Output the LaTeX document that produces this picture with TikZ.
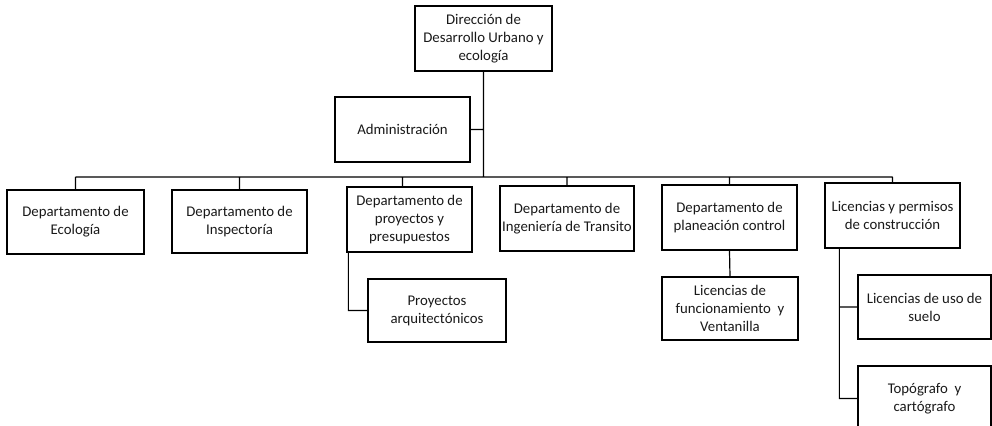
\documentclass[tikz,border=0pt]{standalone}
\usepackage{fontspec}
\setmainfont{Carlito}
\usetikzlibrary{positioning}
\tikzset{
  x=0.5pt, y=-0.5pt, % one unit is one pixel of the scan
  unidad/.style={draw, line width=0.65pt, align=center, inner sep=0pt,
    font=\fontsize{7.4}{9}\selectfont, text=black!90}, % every box of the chart
  linea/.style={line width=0.6pt}, % the connectors
}

\begin{document}
\begin{tikzpicture}
    \useasboundingbox (0,0) rectangle (992,426);

    % top of the chart
    \node[unidad, minimum width=68.5pt, minimum height=32.5pt] (dir) at (483.5,38.5)
      {Dirección de\\Desarrollo Urbano y\\ecología};
    \node[unidad, minimum width=67.5pt, minimum height=32.5pt] (adm) at (402.5,129.5)
      {Administración};
    \coordinate (bus) at (0,177);

    % departments
    \node[unidad, minimum width=68.5pt, minimum height=32pt] (eco) at (75.5,222)
      {Departamento de\\Ecología};
    \node[unidad, minimum width=67.5pt, minimum height=31.5pt] (insp) at (239.5,221.5)
      {Departamento de\\Inspectoría};
    \node[unidad, minimum width=62.5pt, minimum height=32.5pt] (proy) at (409.5,219.5)
      {Departamento de\\proyectos y\\presupuestos};
    \node[unidad, minimum width=67pt, minimum height=32.5pt] (ing) at (567,218.5)
      {Departamento de\\Ingeniería de Transito};
    \node[unidad, minimum width=67.5pt, minimum height=32.5pt] (plan) at (729.5,217.5)
      {Departamento de\\planeación control};
    \node[unidad, minimum width=67.5pt, minimum height=32.5pt] (lic) at (892.5,215.5)
      {Licencias y permisos\\de construcción};

    % lower level
    \node[unidad, minimum width=69pt, minimum height=31.5pt] (arq) at (437,310.5)
      {Proyectos\\arquitectónicos};
    \node[unidad, minimum width=68pt, minimum height=31.5pt] (func) at (730,308.5)
      {Licencias de\\funcionamiento~ y\\Ventanilla};
    \node[unidad, minimum width=66.5pt, minimum height=32pt] (suelo) at (924.5,307)
      {Licencias de uso de\\suelo};
    \node[unidad, minimum width=66.5pt, minimum height=32.5pt] (topo) at (924.5,398.5)
      {Topógrafo~ y\\cartógrafo};

    \draw[linea]
    (dir.south) -- (dir.south |- bus)
    (adm.east) -- (adm.east -| dir.south)
    (eco.north |- bus) -- (lic.north |- bus)
    (eco.north) -- (eco.north |- bus)
    (insp.north) -- (insp.north |- bus)
    ([xshift=-3.5pt]proy.north) -- ([xshift=-3.5pt]proy.north |- bus)
    (ing.north) -- (ing.north |- bus)
    (plan.north) -- (plan.north |- bus)
    (lic.north) -- (lic.north |- bus)
    ([xshift=1pt]proy.south west) |- (arq.west)
    (plan.south) -- (func.north)
    ([xshift=7.5pt]lic.south west) |- (topo.west)
    ([xshift=7.5pt]lic.south west |- suelo.west) -- (suelo.west)
    ;
  \end{tikzpicture}
\end{document}
